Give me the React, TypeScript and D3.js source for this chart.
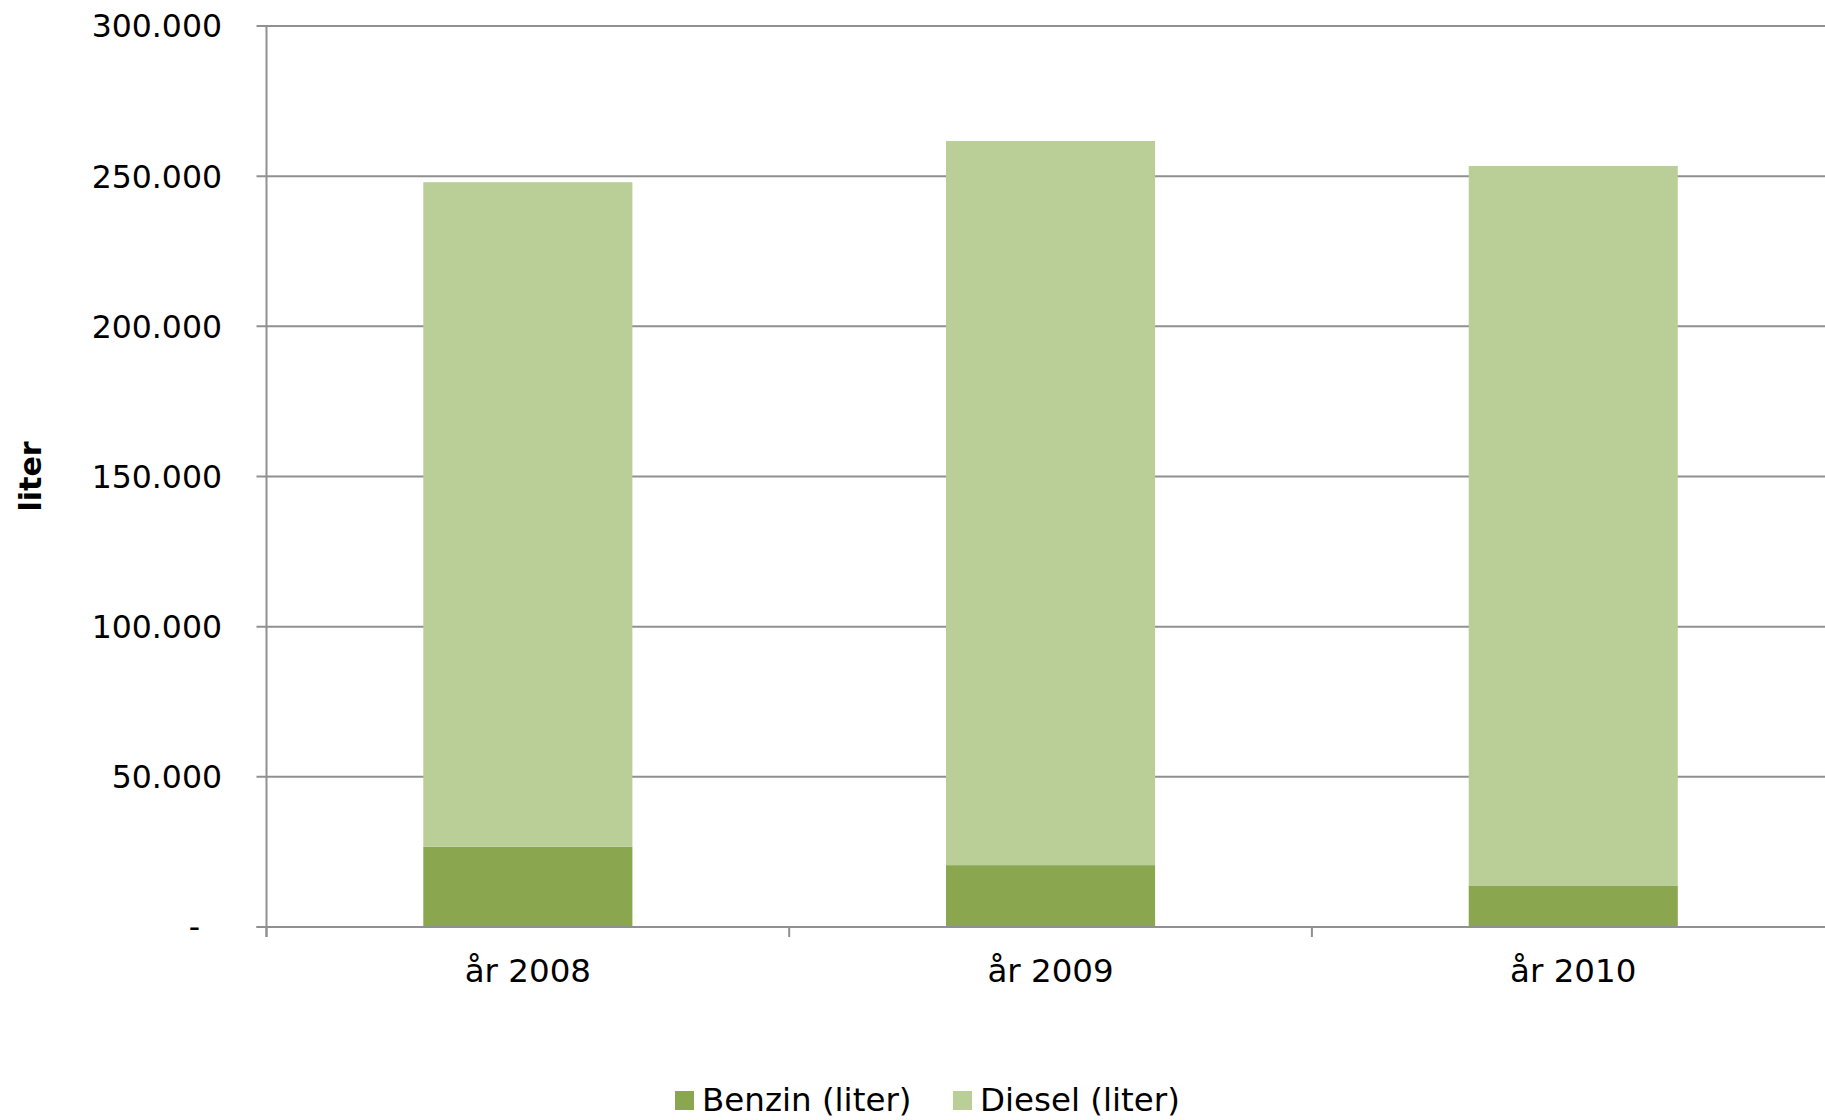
import React from "react";
import * as d3 from "d3";

const categories = ["år 2008", "år 2009", "år 2010"];
const benzin = [26700, 20600, 13650];
const diesel = [221300, 241100, 239750];
const seriesNames = ["Benzin (liter)", "Diesel (liter)"];
const seriesColors = ["#8AA64E", "#BACF98"];
const yTicks = [0, 50000, 100000, 150000, 200000, 250000, 300000];

const W = 1825;
const H = 1120;
const left = 266.5;
const top = 26;
const bottom = 927;
const right = left + 3 * 522.7;

export default function App() {
  const x = d3
    .scaleBand<string>()
    .domain(categories)
    .range([left, right])
    .paddingInner(0.6)
    .paddingOuter(0.3);
  const y = d3.scaleLinear().domain([0, 300000]).range([bottom, top]);
  const step = x.step();

  const rows = categories.map((c, i) => ({ cat: c, benzin: benzin[i], diesel: diesel[i] }));
  const stack = d3.stack<any>().keys(["benzin", "diesel"])(rows);

  const fmt = (v: number) =>
    v === 0 ? "-" : d3.format(",")(v).replace(/,/g, ".");

  const font = "'DejaVu Sans', Verdana, sans-serif";
  const grid = "#909090";

  return (
    <svg
      width={W}
      height={H}
      style={{ position: "absolute", left: 0, top: 0, background: "#fff" }}
      fontFamily={font}
    >
      <rect x={0} y={0} width={W} height={H} fill="#fff" />
      {yTicks.map((t) => (
        <line
          key={"g" + t}
          x1={left - 10}
          x2={W}
          y1={y(t)}
          y2={y(t)}
          stroke={grid}
          strokeWidth={2}
        />
      ))}
      <line x1={left} x2={left} y1={top} y2={bottom + 10} stroke={grid} strokeWidth={2} />
      {categories.map((c, i) => (
        <line
          key={"xt" + i}
          x1={left + i * step}
          x2={left + i * step}
          y1={bottom}
          y2={bottom + 10}
          stroke={grid}
          strokeWidth={2}
        />
      ))}
      {stack.map((s, si) => (
        <g key={s.key}>
          {s.map((d, i) => (
            <rect
              key={i}
              x={x(categories[i])}
              width={x.bandwidth()}
              y={y(d[1])}
              height={y(d[0]) - y(d[1])}
              fill={seriesColors[si]}
            />
          ))}
        </g>
      ))}
      <line x1={left - 10} x2={W} y1={bottom} y2={bottom} stroke={grid} strokeWidth={2} />
      {yTicks.map((t) => (
        <text
          key={"yl" + t}
          x={t === 0 ? 200 : 222}
          y={y(t)}
          dy="0.36em"
          textAnchor="end"
          fontSize={31.5}
          fill="#000"
        >
          {fmt(t)}
        </text>
      ))}
      {categories.map((c) => (
        <text
          key={"xl" + c}
          x={(x(c) as number) + x.bandwidth() / 2}
          y={982}
          textAnchor="middle"
          fontSize={32.5}
          fill="#000"
        >
          {c}
        </text>
      ))}
      <text
        transform={`translate(41,${(top + bottom) / 2}) rotate(-90)`}
        textAnchor="middle"
        fontSize={30}
        fontWeight="bold"
        fill="#000"
      >
        liter
      </text>
      {[675, 953].map((lx, i) => (
        <g key={"lg" + i}>
          <rect x={lx} y={1091} width={19} height={19} fill={seriesColors[i]} />
          <text x={lx + 27} y={1111} fontSize={32.5} fill="#000">
            {seriesNames[i]}
          </text>
        </g>
      ))}
    </svg>
  );
}
